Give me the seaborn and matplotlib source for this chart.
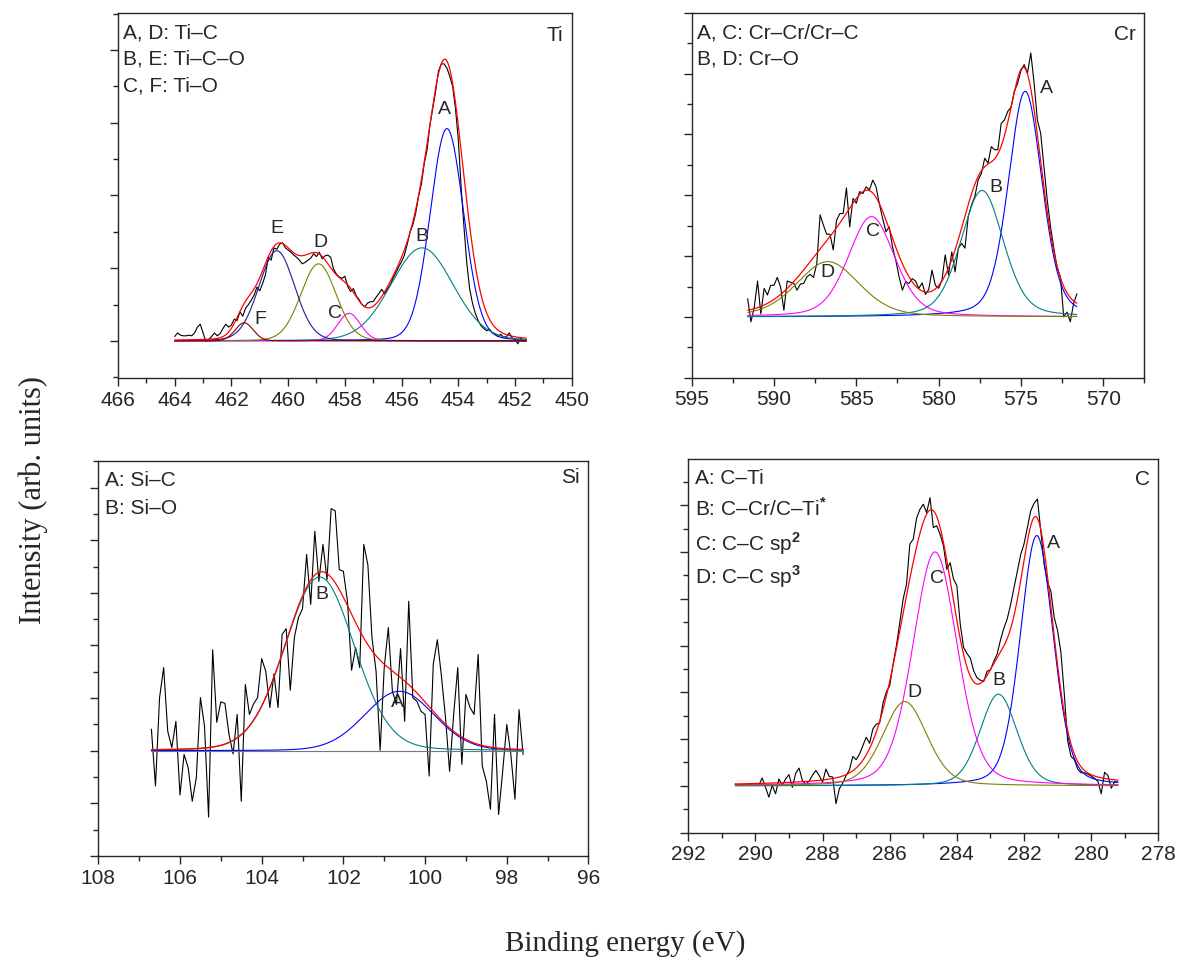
import numpy as np
import matplotlib
matplotlib.use("Agg")
import matplotlib.pyplot as plt
from matplotlib.ticker import MultipleLocator
import seaborn as sns

# ---- raw spectra (background-subtracted, arb. units) ----
ti_range = (464.0, 451.6)
ti_counts = [0.06, 0.11, 0.08, 0.07, 0.07, 0.08, 0.07, 0.11, 0.19, 0.23,
             0.11, -0.01, 0.02, 0.06, 0.11, 0.07, 0.10, 0.17, 0.23, 0.19,
             0.22, 0.30, 0.28, 0.40, 0.34, 0.45, 0.50, 0.56, 0.63, 0.74,
             0.69, 0.79, 0.91, 1.15, 1.11, 1.28, 1.26, 1.33, 1.35, 1.28,
             1.25, 1.22, 1.18, 1.15, 1.11, 1.06, 1.08, 1.11, 1.14, 1.20,
             1.16, 1.22, 1.13, 1.17, 1.18, 1.15, 0.99, 0.92, 0.88, 0.86,
             0.89, 0.75, 0.68, 0.72, 0.62, 0.57, 0.50, 0.47, 0.52, 0.54,
             0.54, 0.60, 0.65, 0.71, 0.65, 0.71, 0.77, 0.86, 0.94, 1.02,
             1.09, 1.18, 1.33, 1.50, 1.60, 1.76, 1.99, 2.16, 2.44, 2.63,
             2.97, 3.20, 3.43, 3.71, 3.81, 3.81, 3.75, 3.64, 3.50, 3.20,
             2.77, 2.12, 1.57, 1.07, 0.72, 0.52, 0.38, 0.28, 0.21, 0.17,
             0.14, 0.16, 0.11, 0.10, 0.06, 0.09, 0.05, 0.06, 0.11, 0.04,
             0.02, -0.04, 0.04, -0.01, 0.01]

cr_range = (591.6, 571.6)
cr_counts = [0.30, -0.08, 0.16, 0.59, 0.05, 0.47, 0.36, 0.52, 0.52, 0.65,
             0.49, 0.11, 0.59, 0.57, 0.55, 0.44, 0.54, 0.55, 0.66, 0.70,
             0.65, 0.88, 1.68, 1.51, 1.36, 1.36, 1.10, 1.59, 1.70, 1.70,
             2.12, 1.48, 1.95, 1.87, 2.06, 2.03, 2.14, 2.09, 2.25, 2.14,
             1.86, 1.62, 1.40, 1.48, 1.15, 0.93, 0.66, 0.44, 0.58, 0.55,
             0.63, 0.59, 0.47, 0.56, 0.37, 0.45, 0.77, 0.52, 0.47, 0.60,
             1.02, 0.69, 1.07, 0.74, 1.13, 1.21, 1.13, 1.65, 1.84, 1.98,
             2.25, 2.36, 2.61, 2.53, 2.80, 2.75, 2.75, 3.18, 3.24, 3.38,
             3.45, 3.71, 3.84, 4.05, 4.15, 4.01, 4.34, 3.85, 3.24, 3.02,
             2.47, 1.92, 1.48, 1.13, 0.80, 0.66, 0.00, 0.08, -0.08, 0.22,
             0.38]

si_range = (106.7, 97.6)
si_counts = [0.41, -0.67, 1.01, 1.58, 0.37, 0.06, 0.56, -0.84, -0.07, -0.32,
             -0.96, -0.51, 1.01, 0.47, -1.26, 1.92, 0.54, 0.93, 0.90, 0.31,
             -0.06, 0.69, -0.96, 1.26, 0.69, 0.89, 1.01, 1.75, 1.51, 0.82,
             1.46, 0.82, 2.21, 2.32, 1.15, 2.15, 2.53, 2.70, 3.73, 2.78,
             4.17, 3.22, 3.92, 3.25, 4.60, 4.56, 3.44, 3.41, 2.84, 1.53,
             1.96, 1.58, 3.92, 3.53, 2.15, 1.51, 0.01, 1.58, 2.34, 1.13,
             0.88, 1.94, 0.56, 2.84, 1.01, 0.94, 0.75, 0.69, -0.48, 1.64,
             2.11, 1.42, 0.63, -0.39, 0.69, 1.58, -0.26, 1.07, 0.82, 0.69,
             1.83, -0.29, -0.58, -1.11, 0.69, -1.21, -0.39, 0.50, -0.07, -0.92,
             0.78, -0.07]

c_range = (290.6, 279.2)
c_counts = [0.04, 0.01, 0.03, 0.01, 0.04, 0.03, 0.01, 0.01, 0.17, -0.03,
            -0.24, 0.01, -0.17, 0.15, 0.01, 0.15, 0.24, -0.03, 0.27, 0.38,
            0.11, 0.04, 0.10, 0.23, 0.33, 0.22, 0.08, 0.36, 0.20, 0.19,
            -0.38, -0.06, 0.06, 0.22, 0.34, 0.63, 0.56, 0.68, 0.86, 1.04,
            0.91, 1.22, 1.32, 1.34, 1.77, 2.01, 2.14, 2.60, 3.00, 3.49,
            3.99, 4.31, 5.17, 5.27, 5.72, 5.91, 6.02, 5.84, 6.16, 5.52,
            5.56, 5.38, 5.13, 4.63, 4.77, 4.42, 4.28, 3.46, 2.96, 2.83,
            2.73, 2.46, 2.31, 2.26, 2.23, 2.45, 2.48, 2.66, 2.82, 3.12,
            3.37, 3.57, 3.87, 4.23, 4.58, 4.94, 5.17, 5.52, 5.88, 6.04,
            6.13, 5.45, 4.73, 4.35, 4.16, 3.60, 3.32, 2.85, 1.96, 0.97,
            0.63, 0.56, 0.36, 0.28, 0.28, 0.25, 0.21, 0.16, 0.10, -0.17,
            0.29, 0.22, -0.05, 0.09, 0.08]

# ---- fitted components: centre (eV), height, FWHM (eV) ----
ti_names = ["A", "B", "C", "D", "E", "F"]
ti_centers = [454.40, 455.28, 457.85, 458.93, 460.40, 461.55]
ti_heights = [2.92, 1.28, 0.38, 1.06, 1.24, 0.25]
ti_fwhm = [1.39, 2.59, 0.94, 1.47, 1.49, 0.75]
ti_colors = ["#0000ff", "#008080", "#ff00ff", "#808000", "#1c1c96", "#800000"]

cr_names = ["A", "B", "C", "D"]
cr_centers = [574.74, 577.36, 584.08, 586.73]
cr_heights = [3.71, 2.08, 1.65, 0.91]
cr_fwhm = [2.42, 3.06, 3.33, 4.50]
cr_colors = ["#0000ff", "#008080", "#ff00ff", "#808000"]

si_names = ["A", "B"]
si_centers = [100.63, 102.58]
si_heights = [1.13, 3.30]
si_fwhm = [2.00, 2.00]
si_colors = ["#0000ff", "#008080"]

c_names = ["A", "B", "C", "D"]
c_centers = [281.62, 282.76, 284.65, 285.55]
c_heights = [5.35, 1.96, 5.00, 1.80]
c_fwhm = [1.16, 1.30, 1.56, 1.56]
c_colors = ["#0000ff", "#008080", "#ff00ff", "#808000"]


def pseudo_voigt(x, c, h, w, eta):
    g = np.exp(-4 * np.log(2) * ((x - c) / w) ** 2)
    l = 1.0 / (1.0 + 4 * ((x - c) / w) ** 2)
    return h * ((1 - eta) * g + eta * l)


sns.set_style("ticks")
plt.rcParams["font.family"] = ["Liberation Sans", "DejaVu Sans"]
plt.rcParams["mathtext.fontset"] = "custom"
plt.rcParams["mathtext.rm"] = "Liberation Sans"
plt.rcParams["mathtext.bf"] = "Liberation Sans:bold"
plt.rcParams["axes.linewidth"] = 1.0

fig = plt.figure(figsize=(11.8, 9.69), dpi=100)
LW = 0.8


def panel(rect, erange, counts, centers, heights, fwhm, colors, eta,
          xlim, ylim, xmajor, xminor, baseline=False):
    ax = fig.add_axes(rect)
    e = np.linspace(erange[0], erange[1], len(counts))
    sns.lineplot(x=e, y=counts, ax=ax, color="black", lw=LW,
                 estimator=None, sort=False)
    grid = np.linspace(erange[0], erange[1], 800)
    total = np.zeros_like(grid)
    if baseline:
        sns.lineplot(x=grid, y=np.zeros_like(grid), ax=ax, color="#777777",
                     lw=LW, estimator=None, sort=False)
    for c, h, w, col in zip(centers, heights, fwhm, colors):
        comp = pseudo_voigt(grid, c, h, w, eta)
        total += comp
        sns.lineplot(x=grid, y=comp, ax=ax, color=col, lw=LW,
                     estimator=None, sort=False)
    sns.lineplot(x=grid, y=total, ax=ax, color="red", lw=LW + 0.1,
                 estimator=None, sort=False)
    ax.set_xlim(*xlim)
    ax.set_ylim(*ylim)
    ax.xaxis.set_major_locator(MultipleLocator(xmajor))
    ax.xaxis.set_minor_locator(MultipleLocator(xminor))
    ax.yaxis.set_major_locator(MultipleLocator(1))
    ax.yaxis.set_minor_locator(MultipleLocator(0.5))
    ax.tick_params(which="major", direction="out", length=6, width=1,
                   labelsize=15, pad=3, top=False, right=False)
    ax.tick_params(which="minor", direction="out", length=3.5, width=1,
                   top=False, right=False)
    ax.tick_params(axis="y", labelleft=False)
    ax.set_xlabel("")
    ax.set_ylabel("")
    for s in ax.spines.values():
        s.set_visible(True)
        s.set_linewidth(1.0)
    return ax


ax_ti = panel([0.1000, 0.6099, 0.3845, 0.3767], ti_range, ti_counts, ti_centers,
              ti_heights, ti_fwhm, ti_colors, 0.1, (466, 450), (-0.51, 4.51), 2, 1)
ax_cr = panel([0.5862, 0.6102, 0.3836, 0.3765], cr_range, cr_counts, cr_centers,
              cr_heights, cr_fwhm, cr_colors, 0.3, (595, 567.5), (-1.0, 5.0), 5, 2.5)
ax_si = panel([0.0833, 0.1166, 0.4154, 0.4079], si_range, si_counts, si_centers,
              si_heights, si_fwhm, si_colors, 0.1, (108, 96), (-2.0, 5.51), 2, 1,
              baseline=True)
ax_c = panel([0.5833, 0.1407, 0.3983, 0.3853], c_range, c_counts, c_centers,
             c_heights, c_fwhm, c_colors, 0.25, (292, 278), (-1.0, 6.98), 2, 1)

# ---- text inside panels ----
fs = 15
pfs = 14


def block(ax, lines, x, ys, tag, tag_y):
    for t, y in zip(lines, ys):
        ax.text(x, y, t, transform=ax.transAxes, fontsize=fs,
                va="center_baseline", ha="left")
    ax.text(0.982, tag_y, tag, transform=ax.transAxes, fontsize=fs,
            va="center_baseline", ha="right")


block(ax_ti, ["A, D: Ti\u2013C", "B, E: Ti\u2013C\u2013O", "C, F: Ti\u2013O"],
      0.012, [0.951, 0.879, 0.806], "Ti", 0.945)
for name, x, y in zip(ti_names, [454.48, 455.28, 458.36, 458.87, 460.40, 460.99],
                      [3.18, 1.43, 0.38, 1.36, 1.54, 0.30]):
    ax_ti.text(x, y, name, fontsize=pfs, ha="center", va="center")

block(ax_cr, ["A, C: Cr\u2013Cr/Cr\u2013C", "B, D: Cr\u2013O"],
      0.011, [0.951, 0.878], "Cr", 0.945)
for name, x, y in zip(cr_names, [573.47, 576.55, 583.97, 586.77], [3.75, 2.13, 1.40, 0.73]):
    ax_cr.text(x, y, name, fontsize=pfs, ha="center", va="center")

block(ax_si, ["A: Si\u2013C", "B: Si\u2013O"], 0.0137, [0.955, 0.884], "Si", 0.962)
for name, x, y in zip(si_names, [100.67, 102.53], [0.92, 2.97]):
    ax_si.text(x, y, name, fontsize=pfs, ha="center", va="center")

block(ax_c, ["A: C\u2013Ti", "B: C\u2013Cr/C\u2013Ti$^{\\mathbf{*}}$",
             "C: C\u2013C sp$^{\\mathbf{2}}$", "D: C\u2013C sp$^{\\mathbf{3}}$"],
      0.0143, [0.953, 0.873, 0.782, 0.695], "C", 0.95)
for name, x, y in zip(c_names, [281.13, 282.76, 284.60, 285.25], [5.18, 2.25, 4.43, 1.99]):
    ax_c.text(x, y, name, fontsize=pfs, ha="center", va="center")

# ---- shared axis labels ----
fig.text(0.028, 0.484, "Intensity (arb. units)", rotation=90, ha="center", va="center",
         fontsize=22, family=["Liberation Serif", "DejaVu Serif"])
fig.text(0.53, 0.026, "Binding energy (eV)", ha="center", va="center",
         fontsize=21, family=["Liberation Serif", "DejaVu Serif"])

fig.savefig("out.png", dpi=100)
